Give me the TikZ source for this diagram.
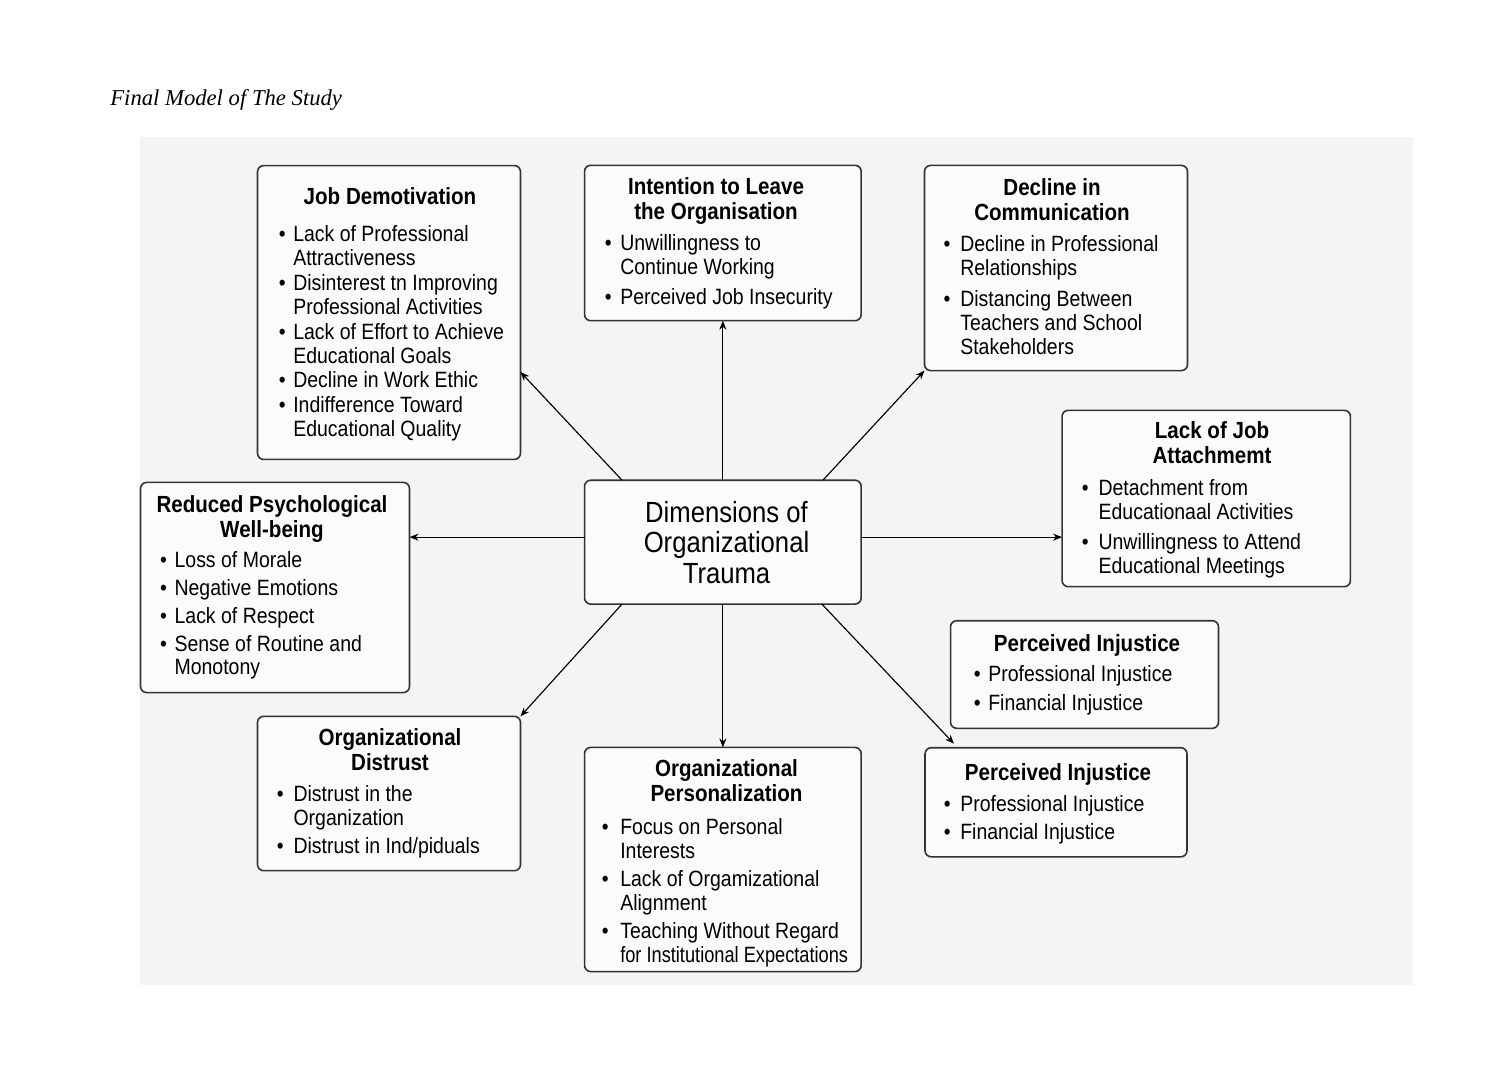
\documentclass[tikz,border=0pt]{standalone}
\usepackage{fontspec}
\setmainfont{Liberation Sans}[FakeStretch=0.88]
\newfontfamily\capfont{Liberation Serif}
\usepackage{graphicx}
\usetikzlibrary{arrows.meta,calc}
\definecolor{bgc}{HTML}{F4F4F4}
\definecolor{boxc}{HTML}{FBFBFB}
\definecolor{linec}{HTML}{333333}
\newdimen\pxd \pxd=0.56693pt
\newcommand\mkbox[5]{\node[box, minimum width={(#4-#2)*\pxd}, minimum height={(#5-#3)*\pxd}] (#1) at ({(#2+#4)/2},{(#3+#5)/2}) {};}
\newcommand\bi[2]{\makebox[#1\pxd][l]{\textbullet}#2}
\newcommand\bc[2]{\hspace*{#1\pxd}#2}
\tikzset{
 box/.style={draw=linec, line width=0.9pt, rounded corners=3.5pt, fill=boxc, inner sep=0pt, outer sep=0pt},
 ttl/.style={anchor=north, inner sep=0pt, align=center, font=\fontsize{13.3}{14.35}\selectfont\bfseries},
 lst/.style={anchor=north west, inner sep=0pt, align=left, font=\fontsize{12.6}{13.6}\selectfont},
 ctr/.style={anchor=north, inner sep=0pt, align=center, font=\fontsize{16.6}{17.3}\selectfont},
 arr/.style={draw=black, line width=0.65pt, -{Stealth[length=1.8mm,width=1.4mm]}},
}
\begin{document}
\begin{tikzpicture}[x=0.02cm, y=-0.02cm]
\fill[white] (0,0) rectangle (1496,1074);
\path[use as bounding box] (0,0) rectangle (1496,1074);
\fill[bgc] (140,137) rectangle (1413,985);
\node[anchor=base west, inner sep=0pt, font=\capfont\itshape\fontsize{12.9}{15}\selectfont] (cap) at (110,106) {Final Model of The Study};

\mkbox{jd}{257}{165}{521}{460}
\mkbox{io}{584}{165}{861.7}{321}
\mkbox{dc}{924}{165}{1188}{371}
\mkbox{ja}{1061.5}{410}{1351}{587}
\mkbox{rp}{140}{482}{410}{693}
\mkbox{c}{584}{480}{861.7}{604.3}
\mkbox{pia}{950}{620.5}{1219}{728.5}
\mkbox{pib}{924.5}{747.5}{1187.5}{857}
\mkbox{od}{257}{716}{521}{871}
\mkbox{op}{584}{747}{861.7}{972}

% center
\node[ctr] (ct) at (726.5,500.6) {\strut Dimensions of\\Organizational\\Trauma};

% Job Demotivation
\node[ttl] (jdt) at (390,186.1) {\strut Job Demotivation};
\node[lst] (jdl) at (278.5,224.9) {\strut\bi{14.5}{Lack of Professional}\\\bc{14.5}{Attractiveness}\\[0.5pt]
\bi{14.5}{Disinterest tn Improving}\\\bc{14.5}{Professional Activities}\\[0.5pt]
\bi{14.5}{Lack of Effort to Achieve}\\\bc{14.5}{Educational Goals}\\[0.5pt]
\bi{14.5}{Decline in Work Ethic}\\[0.5pt]
\bi{14.5}{Indifference Toward}\\\bc{14.5}{Educational Quality}};

% Intention
\node[ttl] (iot) at (716,176.6) {\strut Intention to Leave\\the Organisation};
\node[lst] (iol) at (604.5,233.7) {\strut\bi{15.5}{Unwillingness to}\\\bc{15.5}{Continue Working}\\[3.1pt]
\bi{15.5}{Perceived Job Insecurity}};

% Decline in Communication
\node[ttl] (dct) at (1052,177.3) {\strut Decline in\\Communication};
\node[lst] (dcl) at (943.2,234.7) {\strut\bi{16.8}{Decline in Professional}\\\bc{16.8}{Relationships}\\[4pt]
\bi{16.8}{Distancing Between}\\\bc{16.8}{Teachers and School}\\\bc{16.8}{Stakeholders}};

% Lack of Job Attachment
\node[ttl] (jat) at (1212,420.6) {\strut Lack of Job\\Attachmemt};
\node[lst] (jal) at (1081.5,478.7) {\strut\bi{16.8}{Detachment from}\\\bc{16.8}{Educationaal Activities}\\[3.4pt]
\bi{16.8}{Unwillingness to Attend}\\\bc{16.8}{Educational Meetings}};

% Reduced Psychological Well-being
\node[ttl] (rpt) at (272,494.6) {\strut Reduced Psychological\\Well-being};
\node[lst] (rpl) at (159.8,550.2) {\strut\bi{14.5}{Loss of Morale}\\[2.3pt]
\bi{14.5}{Negative Emotions}\\[2.3pt]
\bi{14.5}{Lack of Respect}\\[2.3pt]
\bi{14.5}{Sense of Routine and}\\\bc{14.5}{Monotony}};

% Perceived Injustice 1
\node[ttl] (piat) at (1087,633.3) {\strut Perceived Injustice};
\node[lst] (pial) at (973.5,664.9) {\strut\bi{14.5}{Professional Injustice}\\[2.4pt]
\bi{14.5}{Financial Injustice}};

% Perceived Injustice 2
\node[ttl] (pibt) at (1058,762.3) {\strut Perceived Injustice};
\node[lst] (pibl) at (943.5,794.9) {\strut\bi{16.5}{Professional Injustice}\\[1.9pt]
\bi{16.5}{Financial Injustice}};

% Organizational Distrust
\node[ttl] (odt) at (390,727.3) {\strut Organizational\\Distrust};
\node[lst] (odl) at (276.5,784.9) {\strut\bi{16.8}{Distrust in the}\\\bc{16.8}{Organization}\\[2.3pt]
\bi{16.8}{Distrust in Ind/piduals}};

% Organizational Personalization
\node[ttl] (opt) at (726.5,758.3) {\strut Organizational\\Personalization};
\node[lst] (opl) at (601.5,817.2) {\strut\bi{18.5}{Focus on Personal}\\\bc{18.5}{Interests}\\[2.5pt]
\bi{18.5}{Lack of Orgamizational}\\\bc{18.5}{Alignment}\\[2.5pt]
\bi{18.5}{Teaching Without Regard}\\\bc{18.5}{\scalebox{0.935}[1]{for Institutional Expectations}}};

% arrows
\draw[arr] ($(c.north)+(-100.8,0)$) -- ($(jd.east)+(0,59.5)$);
\draw[arr] (c.north) -- (io.south);
\draw[arr] ($(c.north)+(100,0)$) -- (dc.south west);
\draw[arr] ($(c.east)+(0,-5)$) coordinate (ce) -- (ce -| ja.west);
\draw[arr] ($(c.west)+(0,-5)$) coordinate (cw) -- (cw -| rp.east);
\draw[arr] ($(c.south)+(-100.8,0)$) -- (od.north east);
\draw[arr] (c.south) -- (op.north);
\draw[arr] ($(c.south)+(99,0)$) -- ($(pib.north west)+(29,-4)$);
\end{tikzpicture}
\end{document}
